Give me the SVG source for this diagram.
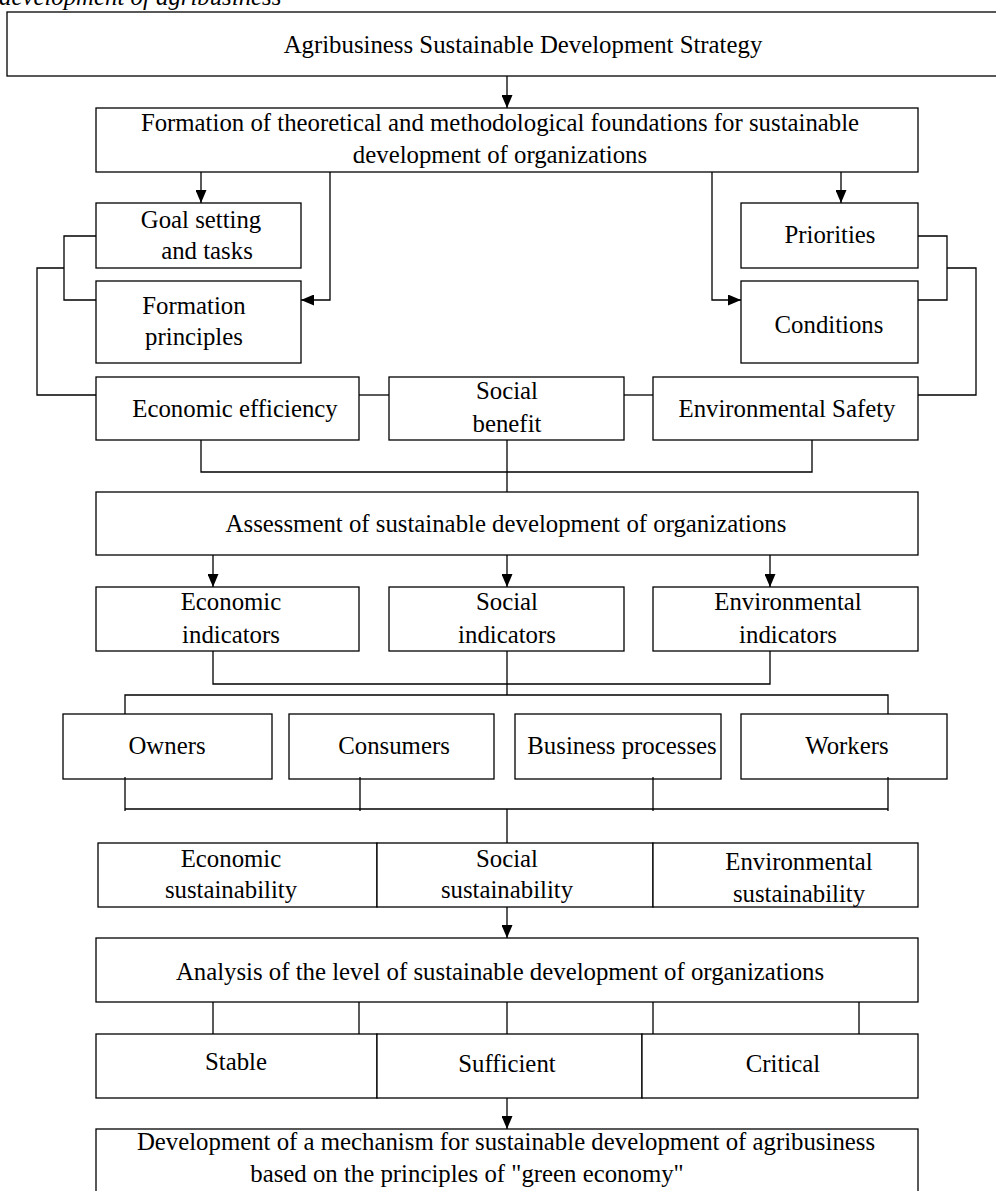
<svg xmlns="http://www.w3.org/2000/svg" width="996" height="1191" viewBox="0 0 996 1191">
<style>
rect{fill:#fff;stroke:#000;stroke-width:1.3}
.c path,.c line{fill:none;stroke:#000;stroke-width:1.3}
text{font-family:'Liberation Serif','Tinos','Nimbus Roman','DejaVu Serif',serif;font-size:24.8px;fill:#000;text-anchor:middle}
.cap{font-style:italic;text-anchor:start}
</style>
<defs>
<marker id="ah" markerWidth="13" markerHeight="11" refX="13" refY="5.5" orient="auto" markerUnits="userSpaceOnUse">
<path d="M0,0 L13,5.5 L0,11 Z" fill="#000"/>
</marker>
</defs>
<rect x="0" y="0" width="996" height="1191" style="stroke:none"/>
<g font-family="Liberation Serif, serif">
<text class="cap" x="-1" y="5">development of agribusiness</text>

<g id="n-strategy"><rect x="7" y="12" width="1000" height="64"/><text x="523" y="53">Agribusiness Sustainable Development Strategy</text></g>
<g id="n-formation"><rect x="96" y="108" width="822" height="64"/><text x="500" y="131">Formation of theoretical and methodological foundations for sustainable</text><text x="500" y="163">development of organizations</text></g>
<g id="n-goal"><rect x="96" y="203" width="205" height="65"/><text x="201" y="228">Goal setting</text><text x="207" y="259">and tasks</text></g>
<g id="n-principles"><rect x="96" y="281" width="205" height="82"/><text x="194" y="314">Formation</text><text x="194" y="345">principles</text></g>
<g id="n-priorities"><rect x="741" y="203" width="177" height="65"/><text x="830" y="243">Priorities</text></g>
<g id="n-conditions"><rect x="741" y="281" width="177" height="82"/><text x="829" y="333">Conditions</text></g>
<g id="n-econeff"><rect x="96" y="377" width="263" height="63"/><text x="235" y="417">Economic efficiency</text></g>
<g id="n-social"><rect x="389" y="377" width="235" height="63"/><text x="507" y="399">Social</text><text x="507" y="432">benefit</text></g>
<g id="n-envsafe"><rect x="653" y="377" width="265" height="63"/><text x="787" y="417">Environmental Safety</text></g>
<g id="n-assess"><rect x="96" y="492" width="822" height="63"/><text x="506" y="532">Assessment of sustainable development of organizations</text></g>
<g id="n-econind"><rect x="96" y="587" width="263" height="64"/><text x="231" y="610">Economic</text><text x="231" y="643">indicators</text></g>
<g id="n-socind"><rect x="389" y="587" width="235" height="64"/><text x="507" y="610">Social</text><text x="507" y="643">indicators</text></g>
<g id="n-envind"><rect x="653" y="587" width="265" height="64"/><text x="788" y="610">Environmental</text><text x="788" y="643">indicators</text></g>
<g id="n-owners"><rect x="63" y="714" width="209" height="65"/><text x="167" y="754">Owners</text></g>
<g id="n-consumers"><rect x="289" y="714" width="205" height="65"/><text x="394" y="754">Consumers</text></g>
<g id="n-business"><rect x="515" y="714" width="206" height="65"/><text x="622" y="754">Business processes</text></g>
<g id="n-workers"><rect x="741" y="714" width="206" height="65"/><text x="847" y="754">Workers</text></g>
<g id="n-sustain">
<rect x="98" y="843" width="279" height="64"/><rect x="377" y="843" width="276" height="64"/><rect x="653" y="843" width="265" height="64"/>
<text x="231" y="867">Economic</text><text x="231" y="898">sustainability</text>
<text x="507" y="867">Social</text><text x="507" y="898">sustainability</text>
<text x="799" y="870">Environmental</text><text x="799" y="902">sustainability</text>
</g>
<g id="n-analysis"><rect x="96" y="938" width="822" height="64"/><text x="500" y="980">Analysis of the level of sustainable development of organizations</text></g>
<g id="n-levels">
<rect x="96" y="1034" width="281" height="64"/><rect x="377" y="1034" width="265" height="64"/><rect x="642" y="1034" width="276" height="64"/>
<text x="236" y="1070">Stable</text><text x="507" y="1072">Sufficient</text><text x="783" y="1072">Critical</text>
</g>
<g id="n-mechanism"><rect x="96" y="1129" width="822" height="80"/><text x="506" y="1150">Development of a mechanism for sustainable development of agribusiness</text><text x="467" y="1182">based on the principles of "green economy"</text></g>
</g>
<g class="c" id="connectors">
<line x1="507" y1="76" x2="507" y2="108" marker-end="url(#ah)"/>
<line x1="201" y1="172" x2="201" y2="203" marker-end="url(#ah)"/>
<path d="M330,172 V300 H301" marker-end="url(#ah)"/>
<line x1="841" y1="172" x2="841" y2="203" marker-end="url(#ah)"/>
<path d="M712,172 V300 H741" marker-end="url(#ah)"/>
<path d="M96,236 H64 V300 H96"/>
<path d="M64,268 H37 V395 H96"/>
<path d="M918,236 H947 V300 H918"/>
<path d="M947,268 H976 V395 H918"/>
<line x1="359" y1="395" x2="389" y2="395"/>
<line x1="624" y1="395" x2="653" y2="395"/>
<path d="M201,440 V472 H812 V440"/>
<line x1="507" y1="440" x2="507" y2="492"/>
<line x1="213" y1="555" x2="213" y2="587" marker-end="url(#ah)"/>
<line x1="507" y1="555" x2="507" y2="587" marker-end="url(#ah)"/>
<line x1="770" y1="555" x2="770" y2="587" marker-end="url(#ah)"/>
<path d="M213,651 V684 H770 V651"/>
<line x1="507" y1="651" x2="507" y2="695"/>
<path d="M125,714 V695 H888 V714"/>
<line x1="125" y1="777" x2="125" y2="811"/>
<line x1="360" y1="777" x2="360" y2="811"/>
<line x1="653" y1="777" x2="653" y2="811"/>
<line x1="888" y1="777" x2="888" y2="811"/>
<line x1="125" y1="809" x2="888" y2="809"/>
<line x1="507" y1="809" x2="507" y2="843"/>
<line x1="507" y1="907" x2="507" y2="938" marker-end="url(#ah)"/>
<line x1="213" y1="1002" x2="213" y2="1034"/>
<line x1="359" y1="1002" x2="359" y2="1034"/>
<line x1="507" y1="1002" x2="507" y2="1034"/>
<line x1="653" y1="1002" x2="653" y2="1034"/>
<line x1="859" y1="1002" x2="859" y2="1034"/>
<line x1="507" y1="1098" x2="507" y2="1129" marker-end="url(#ah)"/>
</g>
</svg>
